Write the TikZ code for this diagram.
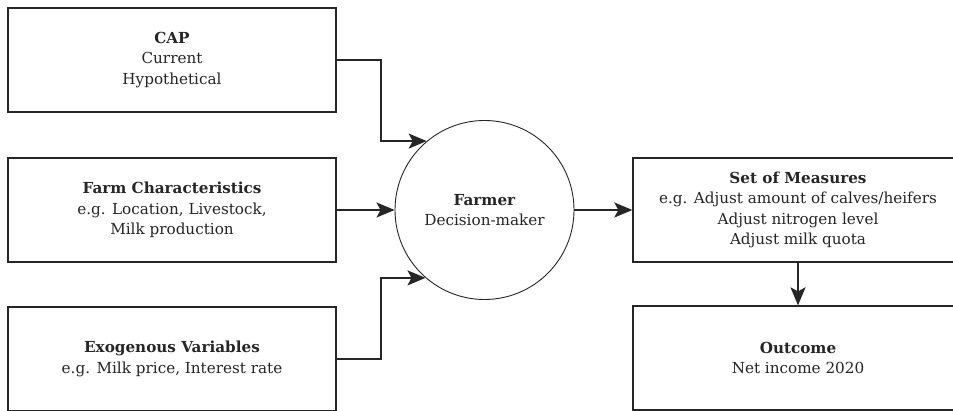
\documentclass[tikz,border=0pt]{standalone}
\usepackage{fontspec}
\setmainfont{DejaVu Serif}
\usetikzlibrary{arrows.meta,calc}
\begin{document}
\begin{tikzpicture}[x=1pt,y=1pt,
  box/.style={draw=black!85, line width=1.3pt, minimum width=328pt, minimum height=104pt, align=center, inner sep=0pt, font=\fontsize{15.2}{20.6}\selectfont, text=black!85},
  circ/.style={draw=black!85, line width=0.9pt, circle, minimum size=179pt, align=center, inner sep=0pt, font=\fontsize{15.2}{20.6}\selectfont, text=black!85},
  arr/.style={draw=black!85, line width=1.8pt, -{Stealth[length=18pt,width=15pt,inset=4pt]}}]
\fill[white] (0,0) rectangle (953,410);
\useasboundingbox (0,0) rectangle (953,410);
\begin{scope}
\clip (0,0) rectangle (953,410);
\node[box] (cap) at (172,350) {\textbf{CAP}\\Current\\Hypothetical};
\node[box] (farm) at (172,200) {\textbf{Farm Characteristics}\\e.g. Location, Livestock,\\Milk production};
\node[box] (exo) at (172,51) {\textbf{Exogenous Variables}\\e.g. Milk price, Interest rate};
\node[circ] (farmer) at (484.5,200) {\textbf{Farmer}\\Decision-maker};
\node[box, minimum width=330pt] (set) at (798,200) {\textbf{Set of Measures}\\e.g. Adjust amount of calves/heifers\\Adjust nitrogen level\\Adjust milk quota};
\node[box, minimum width=330pt] (out) at (798,52) {\textbf{Outcome}\\Net income 2020};
\coordinate (bend) at (381,0);
\draw[arr] (cap.east) -| (bend |- farmer.130.6) -- (farmer.130.6);
\draw[arr] (farm.east) -- (farmer.west);
\draw[arr] (exo.east) -| (bend |- farmer.229.4) -- (farmer.229.4);
\draw[arr] (farmer.east) -- (set.west);
\draw[arr] (set.south) -- (out.north);
\end{scope}
\end{tikzpicture}
\end{document}
